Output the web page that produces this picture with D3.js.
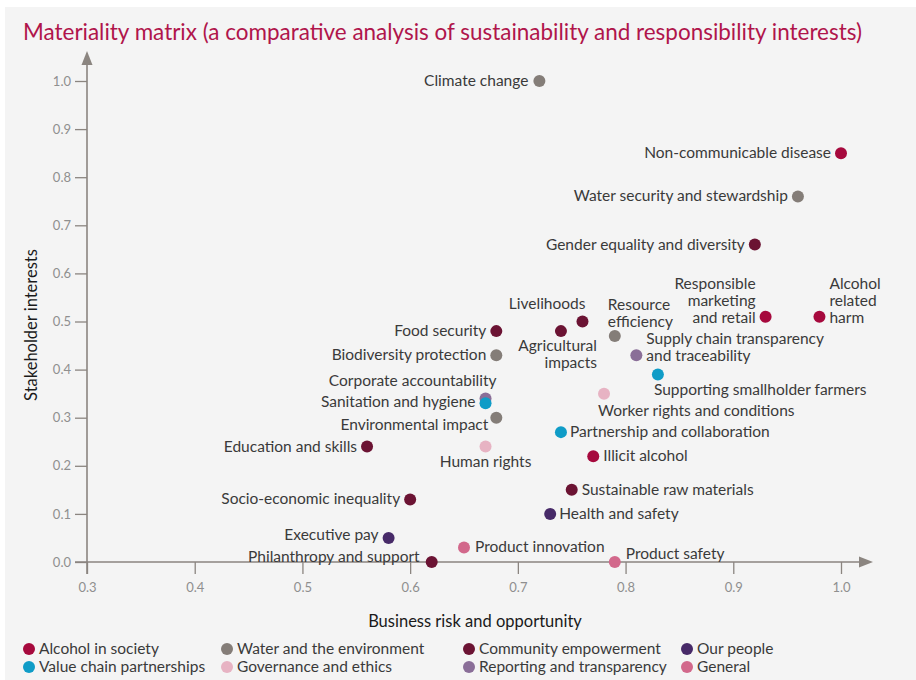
<!DOCTYPE html>
<html>
<head>
<meta charset="utf-8">
<script src="https://cdn.jsdelivr.net/npm/d3@7"></script>
<style>
  body { margin: 0; background: #fff; }
  svg text { font-family: Lato, "Open Sans", sans-serif; }
</style>
</head>
<body>
<svg id="chart" width="916" height="680"></svg>
<script>
// data
const topics = ['Climate change', 'Non-communicable disease', 'Water security and stewardship',
  'Gender equality and diversity', 'Responsible|marketing|and retail', 'Alcohol|related|harm',
  'Livelihoods', 'Agricultural|impacts', 'Food security', 'Resource|efficiency',
  'Biodiversity protection', 'Supply chain transparency|and traceability', 'Supporting smallholder farmers',
  'Worker rights and conditions', 'Corporate accountability', 'Sanitation and hygiene',
  'Environmental impact', 'Partnership and collaboration', 'Education and skills', 'Human rights',
  'Illicit alcohol', 'Sustainable raw materials', 'Socio-economic inequality', 'Health and safety',
  'Executive pay', 'Product innovation', 'Philanthropy and support', 'Product safety'];
const businessRisk = [0.72, 1.00, 0.96, 0.92, 0.93, 0.98, 0.76, 0.74, 0.68, 0.79,
  0.68, 0.81, 0.83, 0.78, 0.67, 0.67, 0.68, 0.74, 0.56, 0.67,
  0.77, 0.75, 0.60, 0.73, 0.58, 0.65, 0.62, 0.79];
const stakeholder = [1.00, 0.85, 0.76, 0.66, 0.51, 0.51, 0.50, 0.48, 0.48, 0.47,
  0.43, 0.43, 0.39, 0.35, 0.34, 0.33, 0.30, 0.27, 0.24, 0.24,
  0.22, 0.15, 0.13, 0.10, 0.05, 0.03, 0.00, 0.00];
const groupOf = [1, 0, 1, 2, 0, 0, 2, 2, 2, 1,
  1, 6, 4, 5, 6, 4, 1, 4, 2, 5,
  0, 2, 2, 3, 3, 7, 2, 7];
const groups = ['Alcohol in society', 'Water and the environment', 'Community empowerment', 'Our people',
  'Value chain partnerships', 'Governance and ethics', 'Reporting and transparency', 'General'];
const xTicks = [0.3, 0.4, 0.5, 0.6, 0.7, 0.8, 0.9, 1.0];
const yTicks = [0.0, 0.1, 0.2, 0.3, 0.4, 0.5, 0.6, 0.7, 0.8, 0.9, 1.0];

const colors = ['#a6093d', '#847d78', '#6b1333', '#472a68', '#0f9cc7', '#e7b3c3', '#8a6e98', '#d2688b'];

// label placement: [anchor, dx, dy of first line]
const labelPos = {
  'Climate change': ['end', -11, 5],
  'Non-communicable disease': ['end', -10, 5],
  'Water security and stewardship': ['end', -10, 5],
  'Gender equality and diversity': ['end', -10, 5],
  'Responsible|marketing|and retail': ['end', -10, -28],
  'Alcohol|related|harm': ['start', 10, -28],
  'Livelihoods': ['end', 3, -13],
  'Agricultural|impacts': ['end', 36, 20],
  'Food security': ['end', -10, 5],
  'Resource|efficiency': ['start', -7, -26],
  'Biodiversity protection': ['end', -10, 5],
  'Supply chain transparency|and traceability': ['start', 10, -11],
  'Supporting smallholder farmers': ['start', -4, 21],
  'Worker rights and conditions': ['start', -6, 22],
  'Corporate accountability': ['end', 11, -12],
  'Sanitation and hygiene': ['end', -10, 4],
  'Environmental impact': ['end', -8, 12],
  'Partnership and collaboration': ['start', 9, 5],
  'Education and skills': ['end', -10, 5],
  'Human rights': ['middle', 0, 20],
  'Illicit alcohol': ['start', 10, 5],
  'Sustainable raw materials': ['start', 10, 5],
  'Socio-economic inequality': ['end', -10, 5],
  'Health and safety': ['start', 9, 5],
  'Executive pay': ['end', -10, 2],
  'Product innovation': ['start', 11, 4],
  'Philanthropy and support': ['end', -12, 0],
  'Product safety': ['start', 11, -3]
};

const svg = d3.select('#chart');
svg.append('rect').attr('x', 5).attr('y', 7).attr('width', 911).attr('height', 673).attr('fill', '#f4f4f4');

svg.append('text')
  .attr('x', 23).attr('y', 40)
  .attr('font-size', 23)
  .attr('fill', '#b0154b')
  .attr('textLength', 839).attr('lengthAdjust', 'spacingAndGlyphs')
  .text('Materiality matrix (a comparative analysis of sustainability and responsibility interests)');

const x = d3.scaleLinear().domain([0.3, 1.0]).range([87, 841]);
const y = d3.scaleLinear().domain([0, 1]).range([562, 81]);
const axisColor = '#8b8580';

const xAxis = svg.append('g').attr('transform', 'translate(0,562)')
  .call(d3.axisBottom(x).tickValues(xTicks).tickFormat(d3.format('.1f')).tickSize(12).tickPadding(9));
const yAxis = svg.append('g').attr('transform', 'translate(87,0)')
  .call(d3.axisLeft(y).tickValues(yTicks).tickFormat(d3.format('.1f')).tickSize(12).tickPadding(4));

[xAxis, yAxis].forEach(g => {
  g.select('.domain').remove();
  g.selectAll('line').attr('stroke', axisColor).attr('stroke-width', 1.3);
  g.selectAll('text').attr('fill', '#8f8f8f').attr('font-size', 13)
    .style('font-family', 'Lato, "Open Sans", sans-serif');
});

// axis lines with arrows
svg.append('line').attr('x1', 75).attr('x2', 862).attr('y1', 562).attr('y2', 562)
  .attr('stroke', axisColor).attr('stroke-width', 1.6);
svg.append('line').attr('x1', 87).attr('x2', 87).attr('y1', 574).attr('y2', 62)
  .attr('stroke', axisColor).attr('stroke-width', 1.6);
svg.append('path').attr('d', 'M873,562 L859,556.5 L859,567.5 Z').attr('fill', axisColor);
svg.append('path').attr('d', 'M87,51 L81.5,65 L92.5,65 Z').attr('fill', axisColor);

svg.append('text')
  .attr('x', 475).attr('y', 627).attr('text-anchor', 'middle')
  .attr('font-size', 16.5).attr('fill', '#1a1a1a')
  .text('Business risk and opportunity');
svg.append('text')
  .attr('transform', 'translate(37,325) rotate(-90)').attr('text-anchor', 'middle')
  .attr('font-size', 16.5).attr('fill', '#1a1a1a')
  .text('Stakeholder interests');

// points and labels
const pts = topics.map((t, i) => ({ name: t, bx: businessRisk[i], sy: stakeholder[i], g: groupOf[i] }));

const labels = svg.append('g').selectAll('text').data(pts).join('text')
  .attr('font-size', 15.5).attr('fill', '#3a3a3a')
  .attr('text-anchor', d => labelPos[d.name][0]);
labels.each(function(d) {
  const [, dx, dy] = labelPos[d.name];
  const px = x(d.bx) + dx;
  d3.select(this).selectAll('tspan').data(d.name.split('|')).join('tspan')
    .attr('x', px)
    .attr('y', (s, j) => y(d.sy) + dy + j * 17)
    .text(s => s);
});

svg.append('g').selectAll('circle').data(pts).join('circle')
  .attr('cx', d => x(d.bx))
  .attr('cy', d => y(d.sy))
  .attr('r', 6)
  .attr('fill', d => colors[d.g]);

// legend
const legCols = [29, 227, 469, 687];
const leg = svg.append('g').selectAll('g').data(groups).join('g')
  .attr('transform', (d, i) => `translate(${legCols[i % 4]},${649 + Math.floor(i / 4) * 18})`);
leg.append('circle').attr('r', 6).attr('fill', (d, i) => colors[i]);
leg.append('text').attr('x', 10).attr('y', 5).attr('font-size', 15.5).attr('fill', '#3a3a3a').text(d => d);
</script>
</body>
</html>
